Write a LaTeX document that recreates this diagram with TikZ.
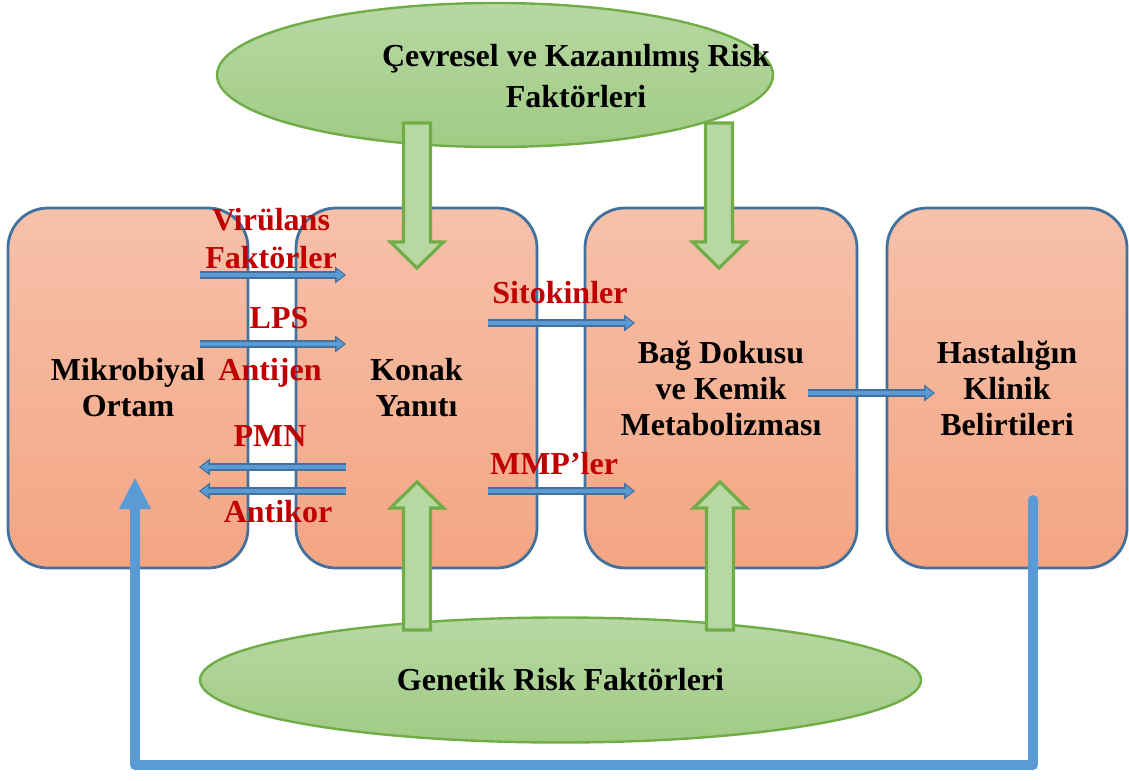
\documentclass[tikz,border=0pt]{standalone}
\usepackage{fontspec}
\setmainfont{Liberation Serif}
\usetikzlibrary{arrows.meta,shapes.geometric}

\definecolor{boxtop}{HTML}{F6C1AA}
\definecolor{boxbot}{HTML}{F4A583}
\definecolor{boxline}{HTML}{41719C}
\definecolor{leaftop}{HTML}{B8D8A3}
\definecolor{leafbot}{HTML}{A0CB84}
\definecolor{leafline}{HTML}{70AD47}
\definecolor{arrdark}{HTML}{41719C}
\definecolor{arrlight}{HTML}{5B9BD5}
\definecolor{loopblue}{HTML}{5B9BD5}
\definecolor{labred}{HTML}{C00000}

\tikzset{
  stage/.style={draw=boxline, line width=1.4pt, rounded corners=20pt,
    top color=boxtop, bottom color=boxbot, minimum height=180pt,
    inner sep=0pt, align=center, font=\bfseries\fontsize{16}{18}\selectfont},
  risk/.style={ellipse, draw=leafline, line width=1.2pt, top color=leaftop,
    bottom color=leafbot, inner sep=0pt, align=center,
    font=\bfseries\fontsize{16}{20.5}\selectfont},
  factor/.style={text=labred, align=center, inner sep=0pt,
    font=\bfseries\fontsize{16}{19}\selectfont},
  flow/.style={draw=arrdark, line width=3.6pt,
    -{Triangle[length=5.5pt,width=8.5pt,line width=0pt]},
    postaction={draw=arrlight, line width=1.8pt, shorten >=0.9pt,
      -{Triangle[length=3.8pt,width=5.6pt,line width=0pt]}}},
  fat/.style={draw=leafline, line width=1.6pt, fill=leaftop, line join=miter},
  loop/.style={draw=loopblue, line width=5pt, line cap=round, line join=round,
    -{Triangle[length=15.5pt,width=16pt,line width=0pt]}}
}

% block arrow: x, y of tail, y of head base, y of tip
\newcommand{\fatarrow}[4]{%
  \draw[fat] (#1-13.5,#2) -- (#1+13.5,#2) -- (#1+13.5,#3) -- (#1+26.5,#3)
    -- (#1,#4) -- (#1-26.5,#3) -- (#1-13.5,#3) -- cycle;}

\begin{document}
\begin{tikzpicture}[x=0.5pt,y=-0.5pt]
  \useasboundingbox (0,0) rectangle (1129,781);

  % stages
  \node[stage, minimum width=120pt] (mikro) at (128,388) {Mikrobiyal\\Ortam};
  \node[stage, minimum width=120.5pt] (konak) at (416.5,388) {Konak\\Yanıtı};
  \node[stage, minimum width=136pt] (bag) at (721,388) {Bağ Dokusu\\ve Kemik\\Metabolizması};
  \node[stage, minimum width=120pt] (hasta) at (1007,388) {Hastalığın\\Klinik\\Belirtileri};

  % risk factors
  \node[risk, minimum width=278pt, minimum height=72pt] (cevre) at (495,75) {};
  \node[align=center, font=\bfseries\fontsize{16}{20.5}\selectfont] (cevretxt) at (576,76)
    {Çevresel ve Kazanılmış Risk\\Faktörleri};
  \node[risk, minimum width=360.5pt, minimum height=62.5pt] (genetik) at (560.5,680)
    {Genetik Risk Faktörleri};

  \fatarrow{417}{123}{242}{268}
  \fatarrow{719}{123}{242}{268}
  \fatarrow{417}{630}{508}{482}
  \fatarrow{720}{630}{508}{482}

  % labels
  \node[factor] (vir) at (271,239) {Virülans\\Faktörler};
  \node[factor] (lps) at (279,318) {LPS};
  \node[factor] (ant) at (270,373) {Antijen};
  \node[factor] (pmn) at (270,436) {PMN};
  \node[factor] (akor) at (278,512) {Antikor};
  \node[factor] (sito) at (560,293) {Sitokinler};
  \node[factor] (mmp) at (554,464) {MMP’ler};

  % small arrows
  \coordinate (v1) at (200,275);  \coordinate (v2) at (346,275);
  \coordinate (l1) at (200,344);  \coordinate (l2) at (346,344);
  \coordinate (p1) at (346,467);  \coordinate (p2) at (199,467);
  \coordinate (a1) at (346,491);  \coordinate (a2) at (199,491);
  \coordinate (s1) at (488,323);  \coordinate (s2) at (635,323);
  \coordinate (m1) at (488,491);  \coordinate (m2) at (635,491);
  \coordinate (b1) at (808,393);  \coordinate (b2) at (935,393);
  \draw[flow] (v1) -- (v2);
  \draw[flow] (l1) -- (l2);
  \draw[flow] (p1) -- (p2);
  \draw[flow] (a1) -- (a2);
  \draw[flow] (s1) -- (s2);
  \draw[flow] (m1) -- (m2);
  \draw[flow] (b1) -- (b2);

  % feedback
  \coordinate (loopstart) at (1033,500);
  \coordinate (loopend) at (135,478);
  \draw[loop] (loopstart) -- ++(0,265) -| (loopend);
\end{tikzpicture}
\end{document}
